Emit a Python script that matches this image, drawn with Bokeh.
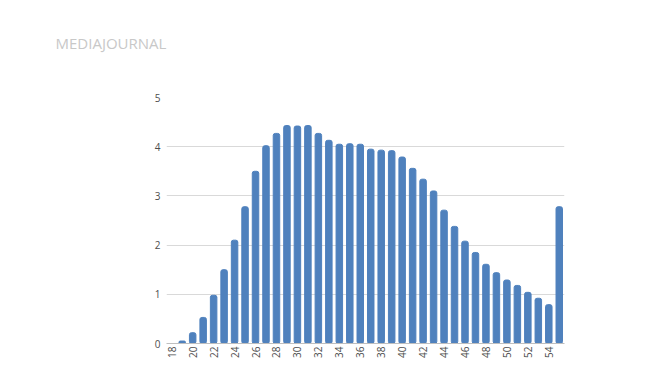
import math
from bokeh.plotting import figure
from bokeh.models import FixedTicker, Range1d, Title
from bokeh.embed import file_html
from bokeh.resources import INLINE

ages = list(range(18, 56))
values = [0.0, 0.05, 0.22, 0.53, 0.98, 1.50, 2.10, 2.78, 3.50, 4.02,
          4.27, 4.43, 4.42, 4.43, 4.27, 4.13, 4.05, 4.06, 4.05, 3.95,
          3.93, 3.92, 3.79, 3.56, 3.34, 3.10, 2.71, 2.38, 2.08, 1.85,
          1.61, 1.44, 1.29, 1.18, 1.04, 0.92, 0.79, 2.78]
x_ticks = list(range(18, 55, 2))
y_ticks = [0, 1, 2, 3, 4, 5]
title_text = "MEDIAJOURNAL"

p = figure(width=654, height=362, output_backend="svg", toolbar_location=None,
           x_range=Range1d(17.5, 55.5), y_range=Range1d(0, 5),
           min_border_left=166, min_border_right=90, min_border_top=97,
           min_border_bottom=19)
p.outline_line_color = None
p.background_fill_color = "white"
p.border_fill_color = "white"

p.vbar(x=ages, top=values, width=0.62, color="#4f81bd", border_radius=2)

# spacer panel between frame and title (added first = nearest to the frame)
spacer = Title(text=" ", text_font_size="10px", standoff=32, align="left")
p.add_layout(spacer, "above")

main_title = Title(text=title_text, text_color="#c8c8c8", text_font="Open Sans",
                   text_font_size="15px", text_font_style="normal",
                   align="left", offset=-111, standoff=0)
p.add_layout(main_title, "above")

p.xaxis.ticker = FixedTicker(ticks=x_ticks)
p.xaxis.major_label_orientation = math.pi / 2
p.xaxis.major_label_text_font_size = "10px"
p.xaxis.major_label_text_color = "#4d4d4d"
p.xaxis.major_label_text_font = "Open Sans"
p.xaxis.axis_line_color = "#bfbfbf"
p.xaxis.major_tick_line_color = None
p.xaxis.minor_tick_line_color = None
p.xaxis.major_tick_out = 0
p.xaxis.minor_tick_out = 0
p.xaxis.major_label_standoff = 3

p.yaxis.ticker = FixedTicker(ticks=y_ticks)
p.yaxis.major_label_text_font_size = "10px"
p.yaxis.major_label_text_color = "#4d4d4d"
p.yaxis.major_label_text_font = "Open Sans"
p.yaxis.axis_line_color = None
p.yaxis.major_tick_line_color = None
p.yaxis.minor_tick_line_color = None
p.yaxis.major_tick_out = 0
p.yaxis.minor_tick_out = 0
p.yaxis.major_label_standoff = 6

p.xgrid.grid_line_color = None
p.ygrid.grid_line_color = "#d9d9d9"

open("out.html", "w").write(file_html(p, INLINE))
